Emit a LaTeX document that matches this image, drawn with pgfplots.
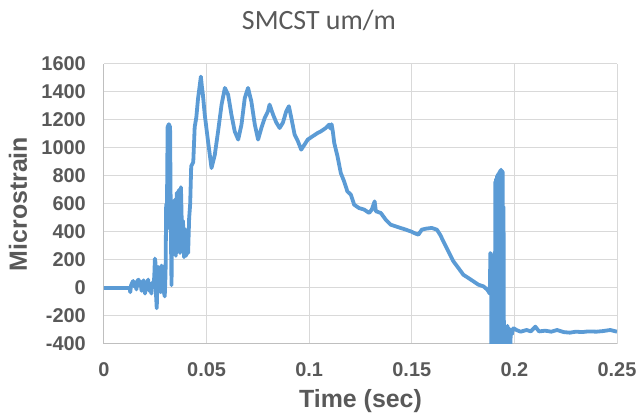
\documentclass[border=0pt]{standalone}
\usepackage{pgfplots}
\pgfplotsset{compat=1.18}
\usepackage{fontspec}
\setmainfont{Liberation Sans}
\newfontfamily\carlito{Carlito}
\definecolor{txt}{HTML}{595959}
\definecolor{grd}{HTML}{D9D9D9}
\definecolor{axl}{HTML}{BFBFBF}
\definecolor{ser}{HTML}{5B9BD5}
\begin{document}
\begin{tikzpicture}
\useasboundingbox (-104bp,-72bp) rectangle (534bp,344bp);
\begin{axis}[
  at={(0,0)}, anchor=south west,
  scale only axis, width=513bp, height=280bp,
  xmin=0, xmax=0.25, ymin=-400, ymax=1600,
  xtick={0,0.05,0.1,0.15,0.2,0.25},
  xticklabels={0,0.05,0.1,0.15,0.2,0.25},
  ytick={-400,-200,0,200,400,600,800,1000,1200,1400,1600},
  yticklabels={-400,-200,0,200,400,600,800,1000,1200,1400,1600},
  grid=major, major grid style={grd, line width=1bp},
  axis x line=bottom, axis y line=left, axis line style={axl, line width=1bp, -},
  major tick length=0pt,
  tick label style={font=\fontsize{20}{24}\selectfont\bfseries, text=txt, inner sep=0pt},
  xticklabel style={anchor=north, yshift=-18bp},
  yticklabel style={anchor=east, xshift=-18bp},
  xlabel={Time (sec)}, ylabel={Microstrain},
  label style={font=\fontsize{25}{30}\selectfont\bfseries, text=txt, inner sep=0pt},
  xlabel style={at={([yshift=-63bp]axis description cs:0.5,0)}, anchor=base},
  ylabel style={at={([xshift=-86bp]axis description cs:0,0.5)}, anchor=center},
  clip=true,
]
\addplot[ser, line width=3.8bp, line join=round, no markers] coordinates {
(0,0) (0.005,0) (0.010,0) (0.0125,0) (0.0128,-30) (0.0132,20) (0.0138,40) (0.0142,50)
(0.0148,10) (0.0152,40) (0.0158,-10) (0.0163,50) (0.0168,60) (0.0172,20) (0.0178,45)
(0.0183,-20) (0.0188,30) (0.0193,55) (0.0197,-10) (0.0200,-40) (0.0205,40) (0.0210,20)
(0.0215,60) (0.0220,-20) (0.0225,30) (0.0231,-40) (0.0236,40) (0.0240,10) (0.0245,80)
(0.0248,210) (0.0251,180) (0.0254,-60) (0.0257,-145) (0.0260,20) (0.0264,150) (0.0268,100)
(0.0272,110) (0.0276,-30) (0.0280,160) (0.0284,140) (0.0288,40) (0.0292,-30) (0.0296,-60)
(0.0300,100) (0.0303,600) (0.0306,420) (0.0310,1150) (0.0316,1170) (0.0322,1150) (0.0326,400)
(0.0329,20) (0.0333,540) (0.0336,300) (0.0340,440) (0.0345,630) (0.0350,230) (0.0355,680)
(0.0360,300) (0.0365,700) (0.0370,250) (0.0375,720) (0.0380,400) (0.0385,480) (0.0390,220)
(0.0395,420) (0.0400,230) (0.0405,300) (0.0410,250) (0.0415,500) (0.0420,600) (0.0425,870)
(0.0435,900) (0.0442,1150) (0.0450,1220) (0.0458,1350) (0.0466,1440) (0.0472,1510)
(0.0477,1440) (0.0482,1380) (0.0491,1238) (0.0507,1048) (0.0524,857) (0.0540,952)
(0.0556,1119) (0.0573,1310) (0.0589,1429) (0.0605,1381) (0.0621,1238) (0.0637,1119)
(0.0654,1060) (0.0670,1167) (0.0686,1357) (0.0702,1429) (0.0718,1333) (0.0735,1167)
(0.0751,1060) (0.0767,1143) (0.0783,1214) (0.0799,1262) (0.0807,1310) (0.0824,1238)
(0.0840,1181) (0.0856,1143) (0.0872,1181) (0.0888,1262) (0.0901,1298) (0.0913,1214)
(0.0929,1095) (0.0945,1048) (0.0961,988) (0.0977,1024) (0.0993,1060) (0.1016,1083)
(0.1041,1107) (0.1057,1119) (0.1081,1143) (0.1097,1167) (0.1103,1140) (0.1109,1170)
(0.1115,1120) (0.1122,1036) (0.1138,940) (0.1154,821) (0.1170,762) (0.1186,690)
(0.1203,667) (0.1219,595) (0.1243,571) (0.1268,560) (0.1292,536) (0.1305,560) (0.1319,619)
(0.1325,548) (0.1349,536) (0.1373,488) (0.1397,452) (0.1430,436) (0.1462,421) (0.1494,405)
(0.1519,388) (0.1532,381) (0.1549,417) (0.1570,424) (0.1597,429) (0.1622,417) (0.1638,381)
(0.1654,333) (0.1670,286) (0.1686,238) (0.1703,190) (0.1727,143) (0.1751,95) (0.1776,71)
(0.1800,48) (0.1824,24) (0.1849,12) (0.1868,-12) (0.1880,-40) (0.1883,250) (0.1886,240)
(0.1888,-450) (0.1891,200) (0.1893,-450) (0.1896,-300) (0.1899,-450) (0.1902,-250)
(0.1905,-450) (0.1907,760) (0.1909,-450) (0.1911,780) (0.1913,-450) (0.1915,800)
(0.1917,-450) (0.1919,810) (0.1921,-450) (0.1923,820) (0.1925,-450) (0.1927,830)
(0.1929,-450) (0.1931,840) (0.1933,-450) (0.1935,845) (0.1937,-450) (0.1939,840)
(0.1941,-450) (0.1943,830) (0.1945,-450) (0.1947,580) (0.1949,-450) (0.1952,-270)
(0.1955,-450) (0.1958,-280) (0.1962,-450) (0.1966,-270) (0.1970,-450) (0.1975,-290)
(0.1979,-450) (0.1983,-300) (0.1988,-330) (0.1993,-290) (0.1997,-288) (0.2010,-300)
(0.2030,-312) (0.2060,-300) (0.2080,-310) (0.2102,-276) (0.2120,-310) (0.2150,-305)
(0.2180,-312) (0.2208,-300) (0.2240,-315) (0.2270,-319) (0.2300,-312) (0.2330,-315)
(0.2360,-310) (0.2400,-312) (0.2430,-308) (0.2467,-300) (0.2500,-312)
};
\end{axis}
\node[font=\carlito\fontsize{28}{32}\selectfont, text=txt, anchor=base] at (215bp,314bp) {SMCST um/m};
\end{tikzpicture}
\end{document}
